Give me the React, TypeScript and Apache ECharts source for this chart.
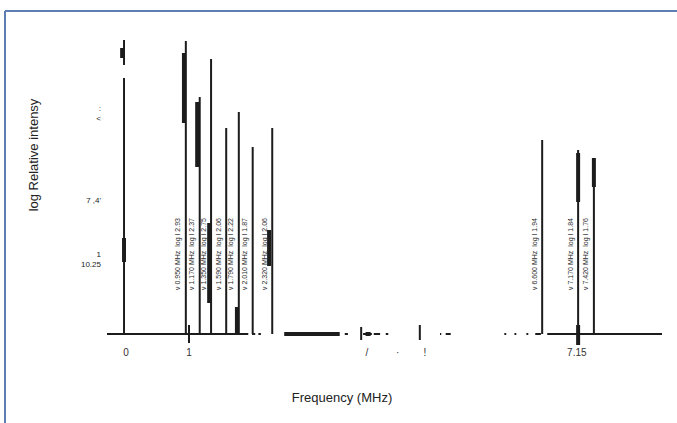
import React, { useEffect, useRef } from "react";
import * as echarts from "echarts";

// Spectral lines: [frequency (MHz), from, to] in log relative intensity
const lineSegments: number[][] = [
  [-0.03, 0, 2.56],
  [-0.03, 2.69, 2.94],
  [0.95, 0, 2.93],
  [1.17, 0, 2.37],
  [1.35, 0, 2.75],
  [1.59, 0, 2.06],
  [1.79, 0, 2.22],
  [2.01, 0, 1.87],
  [2.32, 0, 2.06],
  [6.6, 0, 1.94],
  [7.17, 0, 1.84],
  [7.42, 0, 1.76],
];

// Overlapping (blended) components drawn heavier
const blendSegments: number[][] = [
  [-0.06, 2.76, 2.86],
  [-0.03, 0.72, 0.96],
  [0.92, 2.11, 2.81],
  [1.13, 1.67, 2.32],
  [1.32, 0.31, 1.11],
  [1.76, 0.0, 0.27],
  [2.27, 0.68, 1.04],
  [7.17, 1.32, 1.81],
  [7.42, 1.47, 1.76],
];

// Frequency markers crossing the baseline: [frequency, from, to]
const markerSegments: number[][] = [
  [1.0, -0.09, 0.09],
  [3.73, -0.06, 0.07],
  [4.66, -0.06, 0.09],
];
const heavyMarkers: number[][] = [[7.17, -0.11, 0.09]];

// Baseline pieces: [from, to] in MHz
const baseline: number[][] = [
  [-0.3, 1.94], [2.0, 2.05], [2.1, 2.14], [3.47, 3.52], [3.76, 3.9],
  [3.93, 4.03], [4.12, 4.16], [4.98, 5.0], [5.07, 5.15], [6.0, 6.03],
  [6.16, 6.19], [6.35, 6.38], [6.49, 6.58], [6.68, 8.5],
];
const heavyBaseline: number[][] = [[2.51, 3.39], [3.8, 3.88]];

// Labelled lines: [frequency, peak]
const labelledLines: number[][] = [
  [0.95, 2.93], [1.17, 2.37], [1.35, 2.75], [1.59, 2.06], [1.79, 2.22],
  [2.01, 1.87], [2.32, 2.06], [6.6, 1.94], [7.17, 1.84], [7.42, 1.76],
];

const xTickValues = [0, 1, 3.82, 4.31, 4.74, 7.15];
const xTickLabels = ["0", "1", "/", "·", "!", "7.15"];
const yTickValues = [0.75, 1.34, 2.21];
const yTickLabels = ["1\n10.25", "7 ,4'", ":\n<"];

const INK = "#1c1c1c";

function vertical(width: number) {
  return (_p: any, api: any) => {
    const a = api.coord([api.value(0), api.value(1)]);
    const b = api.coord([api.value(0), api.value(2)]);
    return {
      type: "rect",
      shape: { x: a[0] - width / 2, y: b[1], width, height: a[1] - b[1] },
      style: { fill: INK },
    };
  };
}

function horizontal(height: number) {
  return (_p: any, api: any) => {
    const a = api.coord([api.value(0), 0]);
    const b = api.coord([api.value(1), 0]);
    return {
      type: "rect",
      shape: { x: a[0], y: a[1] - height / 2, width: b[0] - a[0], height },
      style: { fill: INK },
    };
  };
}

export default function App() {
  const ref = useRef<HTMLDivElement>(null);

  useEffect(() => {
    if (!ref.current) return;
    const chart = echarts.init(ref.current, undefined, { renderer: "svg" });
    const font = "'Liberation Sans', Arial, sans-serif";

    chart.setOption({
      animation: false,
      backgroundColor: "#ffffff",
      color: [INK],
      textStyle: { fontFamily: font, color: "#222" },
      grid: { left: 107, right: 15, top: 34, bottom: 49 },
      xAxis: {
        type: "value",
        min: -0.3,
        max: 8.5,
        axisLine: { show: false },
        axisTick: { show: false },
        splitLine: { show: false },
        axisLabel: {
          customValues: xTickValues,
          formatter: (v: number) => {
            const i = xTickValues.findIndex((t) => Math.abs(t - v) < 1e-6);
            return i >= 0 ? xTickLabels[i] : "";
          },
          color: "#333",
          fontSize: 10,
          margin: -27,
        },
      },
      yAxis: {
        type: "value",
        min: -0.4,
        max: 3.0,
        axisLine: { show: false },
        axisTick: { show: false },
        splitLine: { show: false },
        axisLabel: {
          customValues: yTickValues,
          formatter: (v: number) => {
            const i = yTickValues.findIndex((t) => Math.abs(t - v) < 1e-6);
            return i >= 0 ? yTickLabels[i] : "";
          },
          color: "#222",
          fontSize: 8,
          lineHeight: 10,
          margin: 6,
        },
      },
      graphic: [
        { type: "line", shape: { x1: 5, y1: 11, x2: 677, y2: 11 }, style: { stroke: "#5d7db3", lineWidth: 2 } },
        { type: "line", shape: { x1: 5, y1: 11, x2: 5, y2: 423 }, style: { stroke: "#5d7db3", lineWidth: 2 } },
        {
          type: "text",
          x: 33,
          y: 155,
          rotation: Math.PI / 2,
          style: { text: "log Relative intensy", font: `13px ${font}`, fill: "#222", align: "center", verticalAlign: "middle" },
        },
        {
          type: "text",
          x: 342,
          y: 397,
          style: { text: "Frequency (MHz)", font: `13px ${font}`, fill: "#222", align: "center", verticalAlign: "middle" },
        },
      ],
      series: [
        { type: "custom", renderItem: horizontal(2), data: baseline, clip: false, silent: true },
        { type: "custom", renderItem: horizontal(4), data: heavyBaseline, clip: false, silent: true },
        { type: "custom", renderItem: vertical(2), data: lineSegments, clip: false, silent: true },
        { type: "custom", renderItem: vertical(4), data: blendSegments, clip: false, silent: true },
        { type: "custom", renderItem: vertical(2), data: markerSegments, clip: false, silent: true },
        { type: "custom", renderItem: vertical(4), data: heavyMarkers, clip: false, silent: true },
        {
          type: "custom",
          clip: false,
          silent: true,
          data: labelledLines,
          renderItem: (_p: any, api: any) => {
            const f = api.value(0);
            const h = api.value(1);
            const p = api.coord([f, 0.44]);
            return {
              type: "text",
              x: p[0] - 8,
              y: p[1],
              rotation: Math.PI / 2,
              style: {
                text: `\u03BD ${f.toFixed(3)} MHz  log I ${h.toFixed(2)}`,
                font: `7px ${font}`,
                fill: "#2a2a2a",
                align: "left",
                verticalAlign: "middle",
              },
            };
          },
        },
      ],
    });

    return () => chart.dispose();
  }, []);

  return (
    <div
      ref={ref}
      style={{ position: "fixed", left: 0, top: 0, width: 677, height: 423 }}
    />
  );
}
